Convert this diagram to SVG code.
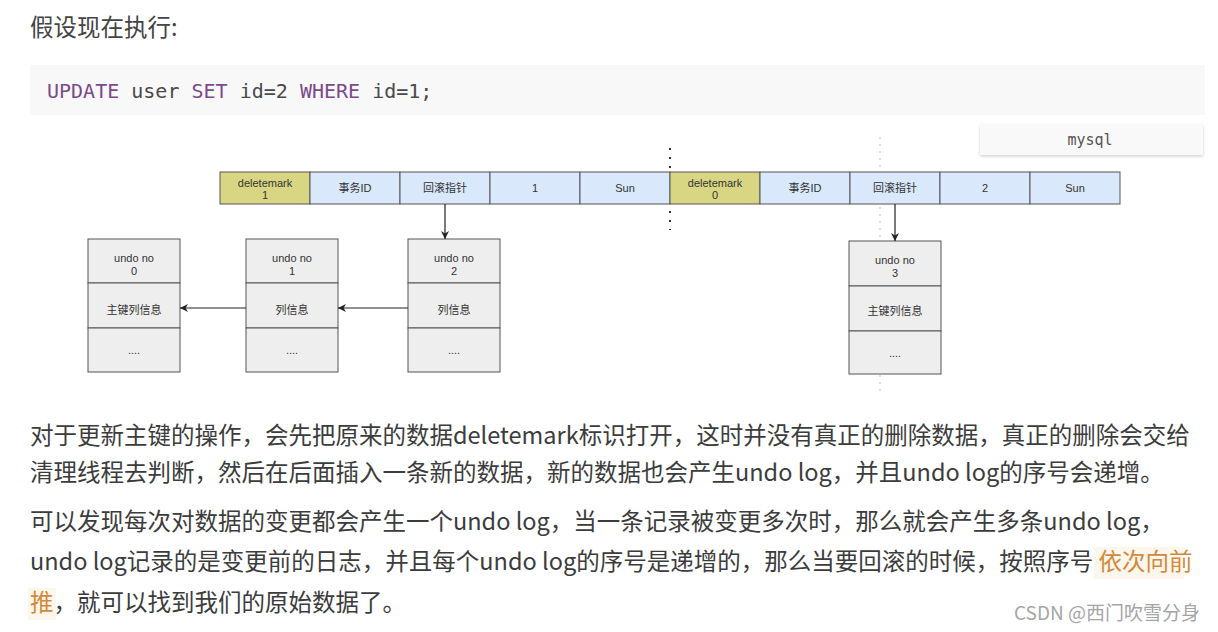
<svg xmlns="http://www.w3.org/2000/svg" width="1218" height="632" viewBox="0 0 1218 632">
<defs>
<marker id="ah" viewBox="0 0 10 10" refX="10" refY="5" markerWidth="8" markerHeight="8" markerUnits="userSpaceOnUse" orient="auto">
<path d="M0,0 L10,5 L0,10 L3,5 Z" fill="#222"/>
</marker>
<filter id="sh" x="-5%" y="-20%" width="110%" height="150%">
<feDropShadow dx="0" dy="1.5" stdDeviation="1.5" flood-color="#000" flood-opacity="0.18"/>
</filter>
<style>
.p{font-family:"Noto Sans CJK SC","Noto Sans",sans-serif;font-size:23.5px;fill:#3c3c3c}
.hl{fill:#d08a3a}
.code{font-family:"DejaVu Sans Mono","Liberation Mono",monospace;font-size:20px;fill:#4a4a4a}
.kw{fill:#7b4a8c}
.cell{stroke:#555;stroke-width:1}
.blue{fill:#dae8fc}
.yel{fill:#d8d683}
.t{font-family:"Liberation Sans","Noto Sans CJK SC",sans-serif;font-size:11px;fill:#333;text-anchor:middle}
.ub{fill:#eeeeee;stroke:#555;stroke-width:1}
.con{stroke:#222;stroke-width:1.2;fill:none}
</style>
</defs>
<rect width="1218" height="632" fill="#ffffff"/>

<g id="title">
<text x="30" y="36" font-family="Noto Sans CJK SC, sans-serif" font-size="23.5" fill="#444">假设现在执行:</text>
</g>

<g id="codeblock">
<rect x="30" y="65" width="1175" height="50" fill="#f8f8f8"/>
<text x="47" y="98" class="code"><tspan class="kw">UPDATE</tspan> user <tspan class="kw">SET</tspan> id=2 <tspan class="kw">WHERE</tspan> id=1;</text>
</g>

<g id="mysql-tag">
<rect x="980" y="124" width="223" height="31" fill="#f9f9f9" filter="url(#sh)"/>
<text x="1090" y="145" font-family="DejaVu Sans Mono, monospace" font-size="15" fill="#555" text-anchor="middle">mysql</text>
</g>

<g id="guides">
<line x1="880" y1="137" x2="880" y2="396" stroke="#c8c8c8" stroke-width="1.2" stroke-dasharray="2,5"/>
<line x1="670" y1="148" x2="670" y2="230" stroke="#333" stroke-width="2" stroke-dasharray="2,7"/>
</g>

<g id="row-old">
<rect x="220" y="172" width="90" height="32" class="cell yel"/>
<text x="265" y="187" class="t">deletemark</text><text x="265" y="199" class="t">1</text>
<rect x="310" y="172" width="90" height="32" class="cell blue"/>
<text x="355" y="192" class="t">事务ID</text>
<rect x="400" y="172" width="90" height="32" class="cell blue"/>
<text x="445" y="192" class="t">回滚指针</text>
<rect x="490" y="172" width="90" height="32" class="cell blue"/>
<text x="535" y="192" class="t">1</text>
<rect x="580" y="172" width="90" height="32" class="cell blue"/>
<text x="625" y="192" class="t">Sun</text>
</g>

<g id="row-new">
<rect x="670" y="172" width="90" height="32" class="cell yel"/>
<text x="715" y="187" class="t">deletemark</text><text x="715" y="199" class="t">0</text>
<rect x="760" y="172" width="90" height="32" class="cell blue"/>
<text x="805" y="192" class="t">事务ID</text>
<rect x="850" y="172" width="90" height="32" class="cell blue"/>
<text x="895" y="192" class="t">回滚指针</text>
<rect x="940" y="172" width="90" height="32" class="cell blue"/>
<text x="985" y="192" class="t">2</text>
<rect x="1030" y="172" width="90" height="32" class="cell blue"/>
<text x="1075" y="192" class="t">Sun</text>
</g>

<g id="undo0">
<rect x="88" y="239" width="92" height="44" class="ub"/>
<rect x="88" y="283" width="92" height="45" class="ub"/>
<rect x="88" y="328" width="92" height="44" class="ub"/>
<text x="134" y="262" class="t">undo no</text><text x="134" y="275" class="t">0</text>
<text x="134" y="314" class="t">主键列信息</text>
<text x="134" y="354" class="t">....</text>
</g>

<g id="undo1">
<rect x="246" y="239" width="92" height="44" class="ub"/>
<rect x="246" y="283" width="92" height="45" class="ub"/>
<rect x="246" y="328" width="92" height="44" class="ub"/>
<text x="292" y="262" class="t">undo no</text><text x="292" y="275" class="t">1</text>
<text x="292" y="314" class="t">列信息</text>
<text x="292" y="354" class="t">....</text>
</g>

<g id="undo2">
<rect x="408" y="239" width="92" height="44" class="ub"/>
<rect x="408" y="283" width="92" height="45" class="ub"/>
<rect x="408" y="328" width="92" height="44" class="ub"/>
<text x="454" y="262" class="t">undo no</text><text x="454" y="275" class="t">2</text>
<text x="454" y="314" class="t">列信息</text>
<text x="454" y="354" class="t">....</text>
</g>

<g id="undo3">
<rect x="849" y="241" width="92" height="45" class="ub"/>
<rect x="849" y="286" width="92" height="45" class="ub"/>
<rect x="849" y="331" width="92" height="43" class="ub"/>
<text x="895" y="264" class="t">undo no</text><text x="895" y="277" class="t">3</text>
<text x="895" y="315" class="t">主键列信息</text>
<text x="895" y="357" class="t">....</text>
</g>

<g id="connectors">
<line x1="445" y1="204" x2="445" y2="239" class="con" marker-end="url(#ah)"/>
<line x1="895" y1="204" x2="895" y2="241" class="con" marker-end="url(#ah)"/>
<line x1="408" y1="308" x2="338" y2="308" class="con" marker-end="url(#ah)"/>
<line x1="246" y1="308" x2="180" y2="308" class="con" marker-end="url(#ah)"/>
</g>

<g id="paragraph1">
<text x="30" y="444" class="p">对于更新主键的操作，会先把原来的数据deletemark标识打开，这时并没有真正的删除数据，真正的删除会交给</text>
<text x="30" y="481" class="p">清理线程去判断，然后在后面插入一条新的数据，新的数据也会产生undo log，并且undo log的序号会递增。</text>
</g>

<g id="paragraph2">
<text x="30" y="530" class="p">可以发现每次对数据的变更都会产生一个undo log，当一条记录被变更多次时，那么就会产生多条undo log，</text>
<rect x="1094" y="547" width="90" height="32" fill="#fdf6ec"/>
<text x="30" y="570" class="p">undo log记录的是变更前的日志，并且每个undo log的序号是递增的，那么当要回滚的时候，按照序号 <tspan class="hl">依次向前</tspan></text>
<rect x="28" y="588" width="28" height="32" fill="#fdf6ec"/>
<text x="30" y="611" class="p"><tspan class="hl">推</tspan>，就可以找到我们的原始数据了。</text>
</g>

<g id="watermark">
<text x="1200" y="620" text-anchor="end" font-family="Noto Sans CJK SC, sans-serif" font-size="19" fill="#a5a5a5">CSDN @西门吹雪分身</text>
</g>
</svg>
